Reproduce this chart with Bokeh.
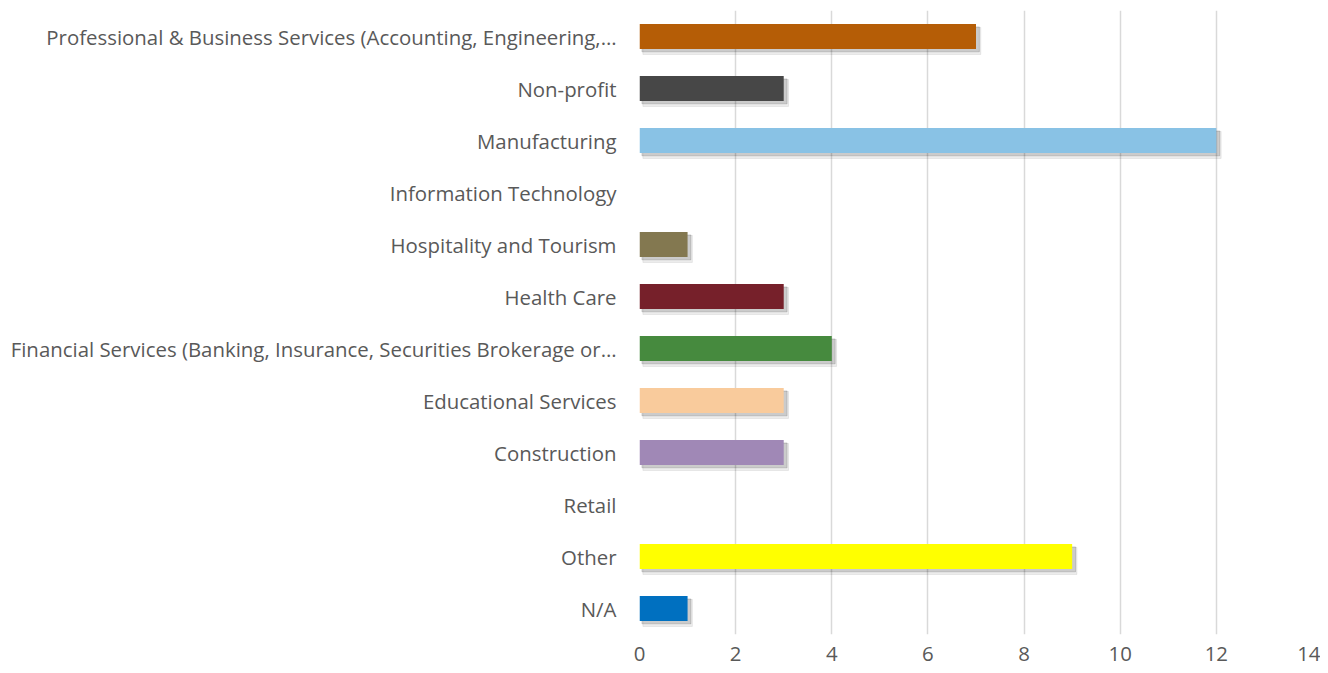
from bokeh.plotting import figure
from bokeh.models import ColumnDataSource, CDSView, BooleanFilter
from bokeh.transform import dodge
from bokeh.embed import file_html
from bokeh.resources import INLINE

categories = [
    "Professional & Business Services (Accounting, Engineering,\u2026",
    "Non-profit",
    "Manufacturing",
    "Information Technology",
    "Hospitality and Tourism",
    "Health Care",
    "Financial Services (Banking, Insurance, Securities Brokerage or\u2026",
    "Educational Services",
    "Construction",
    "Retail",
    "Other",
    "N/A",
]
values = [7, 3, 12, 0, 1, 3, 4, 3, 3, 0, 9, 1]
colors = ["#B55D06", "#474747", "#89C2E5", "#CCCCCC", "#837850", "#76202A",
          "#468A3E", "#F9CB9C", "#A088B6", "#BBBBBB", "#FFFF00", "#0070C0"]
x_ticks = [0, 2, 4, 6, 8, 10, 12, 14]

zeros = [0] * len(values)
src = ColumnDataSource(dict(cat=categories, v=values, c=colors, z=zeros))
nonzero = CDSView(filter=BooleanFilter([v > 0 for v in values]))

y_order = list(reversed(categories))

p = figure(y_range=y_order, x_range=(0, 14), output_backend="svg",
           toolbar_location=None, frame_width=673, frame_height=624,
           min_border_left=639, min_border_right=8, min_border_top=10,
           min_border_bottom=40)

p.background_fill_color = "white"
p.outline_line_color = None

# soft drop shadows
p.hbar(y=dodge("cat", -0.085, range=p.y_range), left=dodge("z", 0.07),
       right=dodge("v", 0.1), height=0.52, color="black", alpha=0.07,
       source=src, view=nonzero)
p.hbar(y=dodge("cat", -0.055, range=p.y_range), left=dodge("z", 0.05),
       right=dodge("v", 0.07), height=0.48, color="black", alpha=0.14,
       source=src, view=nonzero)
# bars
p.hbar(y="cat", left=0, right="v", height=0.48, fill_color="c",
       line_color=None, source=src, view=nonzero)

p.xgrid.ticker = x_ticks
p.xgrid.grid_line_color = "#D9D9D9"
p.xgrid.grid_line_width = 1.5
p.ygrid.grid_line_color = None

p.xaxis.ticker = x_ticks
p.xaxis.axis_line_color = None
p.xaxis.major_tick_line_color = None
p.xaxis.minor_tick_line_color = None
p.xaxis.major_tick_in = 0
p.xaxis.major_tick_out = 0
p.xaxis.major_label_standoff = 12
p.yaxis.axis_line_color = None
p.yaxis.major_tick_line_color = None
p.yaxis.major_tick_in = 0
p.yaxis.major_tick_out = 0
p.yaxis.major_label_standoff = 23

for ax in (p.xaxis, p.yaxis):
    ax.major_label_text_font = "Open Sans"
    ax.major_label_text_font_size = "20.4px"
    ax.major_label_text_color = "#595959"

open("out.html", "w").write(file_html(p, INLINE))
